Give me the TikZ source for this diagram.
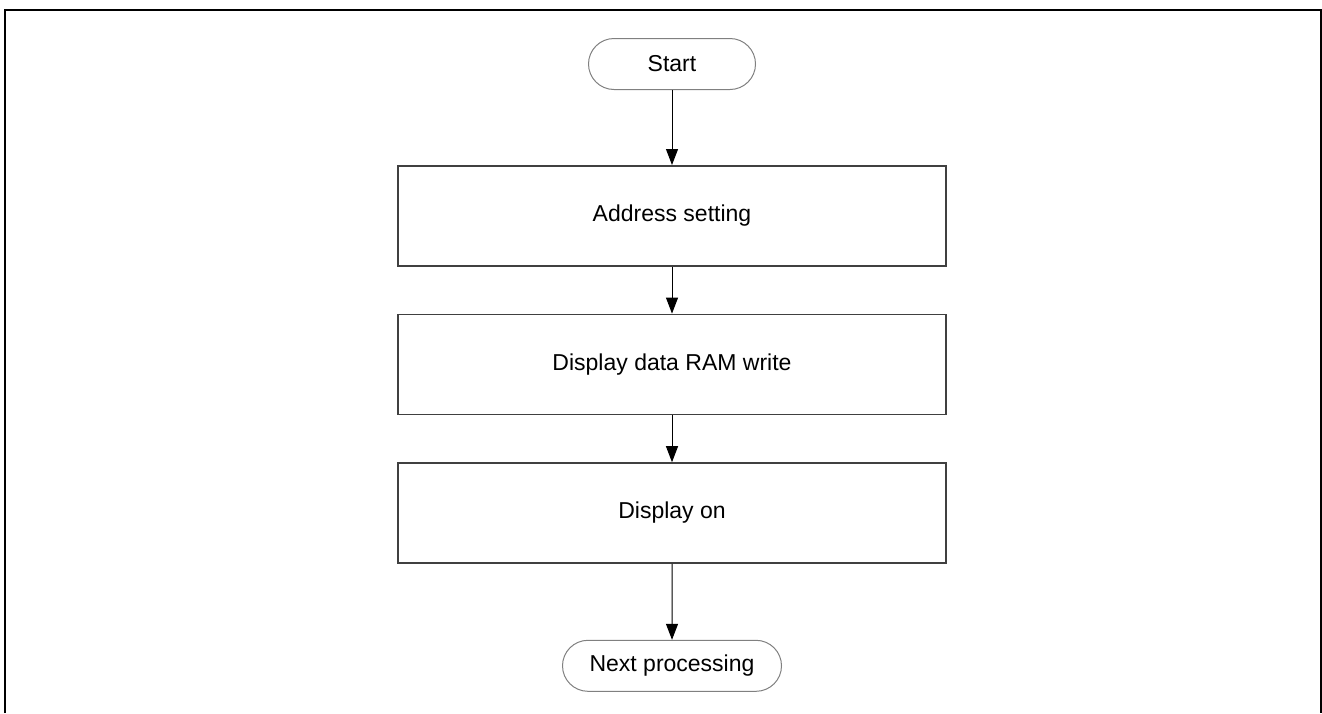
\documentclass[tikz,border=0pt]{standalone}
\usepackage{fontspec}
\setmainfont{Liberation Sans}
\usetikzlibrary{arrows.meta,positioning,shapes.misc}

\begin{document}
\begin{tikzpicture}[x=1pt, y=1pt,
    every node/.style={font=\fontsize{23}{27}\selectfont},
    stepbox/.style={draw=black!75, line width=1.6pt, minimum width=548pt, minimum height=100pt, inner sep=0pt},
    termbox/.style={draw=black!50, line width=1pt, rounded rectangle, minimum height=51pt, inner sep=0pt},
    flow/.style={-{Triangle[length=16pt,width=12pt]}, line width=1pt}]
    \useasboundingbox (0,0) rectangle (1322,-713);
    % outer frame, open at the bottom
    \draw[line width=2pt] (5,-713) -- (5,-10) -- (1321,-10) -- (1321,-713);
    % flow steps
    \node[termbox, minimum width=167pt] (start) at (672,-64) {Start};
    \node[stepbox, below=75pt of start] (addr) {Address setting};
    \node[stepbox, below=47pt of addr] (ramwr) {Display data RAM write};
    \node[stepbox, below=47pt of ramwr] (dispon) {Display on};
    \node[termbox, minimum width=219pt, below=76pt of dispon] (next) {Next processing};
    % connectors
    \draw[flow] (start) -- (addr);
    \draw[flow] (addr) -- (ramwr);
    \draw[flow] (ramwr) -- (dispon);
    \draw[flow] (dispon) -- (next);
\end{tikzpicture}
\end{document}
